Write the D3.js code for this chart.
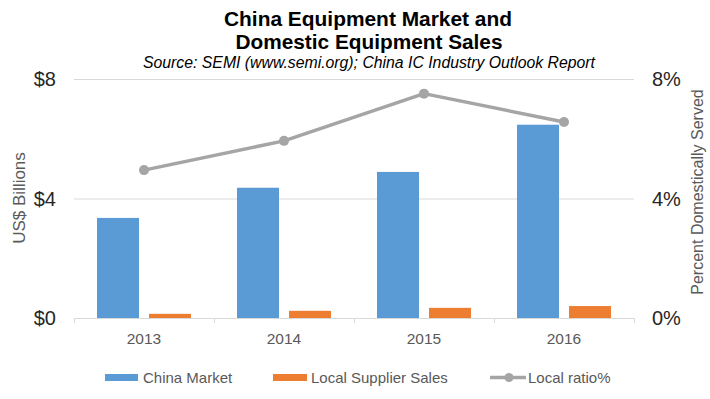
<!DOCTYPE html>
<html>
<head>
<meta charset="utf-8">
<script src="https://cdn.jsdelivr.net/npm/d3@7"></script>
<style>
  body { margin: 0; background: #fff; }
  svg { display: block; font-family: "Liberation Sans", Arial, sans-serif; }
</style>
</head>
<body>
<svg id="chart" width="710" height="399"></svg>
<script>
// chart data
const years = ["2013", "2014", "2015", "2016"];
const chinaMarket = [3.35, 4.36, 4.89, 6.47];
const localSales = [0.14, 0.24, 0.34, 0.40];
const localRatio = [4.95, 5.93, 7.51, 6.56];
const leftTicks = [0, 4, 8];
const rightTicks = [0, 4, 8];

const svg = d3.select('#chart');

// plot area
const x0 = 74, x1 = 634, yTop = 79, yBot = 318;

const x = d3.scaleBand().domain(years).range([x0, x1]).padding(0);
const yL = d3.scaleLinear().domain([0, 8]).range([yBot, yTop]);
const yR = d3.scaleLinear().domain([0, 8]).range([yBot, yTop]);

const blue = '#5B9BD5', orange = '#ED7D31', gray = '#A5A5A5';

// title
const title = svg.append('g').attr('font-weight', 'bold').attr('fill', '#000').attr('text-anchor', 'middle');
title.append('text').attr('x', 368).attr('y', 26).attr('font-size', 20.5)
  .attr('textLength', 288).attr('lengthAdjust', 'spacingAndGlyphs')
  .text('China Equipment Market and');
title.append('text').attr('x', 369).attr('y', 49).attr('font-size', 20.5)
  .attr('textLength', 267).attr('lengthAdjust', 'spacingAndGlyphs')
  .text('Domestic Equipment Sales');
svg.append('text').attr('x', 369).attr('y', 67.5).attr('text-anchor', 'middle')
  .attr('font-size', 16).attr('font-style', 'italic').attr('fill', '#000')
  .attr('textLength', 452).attr('lengthAdjust', 'spacingAndGlyphs')
  .text('Source: SEMI (www.semi.org); China IC Industry Outlook Report');

// gridlines
svg.append('g').selectAll('line').data(leftTicks.slice(1)).enter().append('line')
  .attr('x1', x0).attr('x2', x1)
  .attr('y1', d => yL(d) + 0.5).attr('y2', d => yL(d) + 0.5)
  .attr('stroke', '#D9D9D9').attr('stroke-width', 1);

// bars
const inner = 23, bw = 42, gap = 10;
svg.append('g').selectAll('rect').data(chinaMarket).enter().append('rect')
  .attr('x', (d, i) => x(years[i]) + inner)
  .attr('y', d => yL(d))
  .attr('width', bw)
  .attr('height', d => yBot - yL(d))
  .attr('fill', blue);
svg.append('g').selectAll('rect').data(localSales).enter().append('rect')
  .attr('x', (d, i) => x(years[i]) + inner + bw + gap)
  .attr('y', d => yL(d))
  .attr('width', bw)
  .attr('height', d => yBot - yL(d))
  .attr('fill', orange);

// bottom axis line and ticks
svg.append('line').attr('x1', x0).attr('x2', x1).attr('y1', yBot + 0.5).attr('y2', yBot + 0.5)
  .attr('stroke', '#D9D9D9');
const bounds = years.map(d => x(d)).concat([x1]);
svg.append('g').selectAll('line').data(bounds).enter().append('line')
  .attr('x1', d => d + 0.5).attr('x2', d => d + 0.5)
  .attr('y1', yBot).attr('y2', yBot + 5)
  .attr('stroke', '#D9D9D9');

// year labels
svg.append('g').selectAll('text').data(years).enter().append('text')
  .attr('x', d => x(d) + x.bandwidth() / 2)
  .attr('y', 344)
  .attr('text-anchor', 'middle')
  .attr('font-size', 15.5)
  .attr('fill', '#595959')
  .text(d => d);

// left axis labels
svg.append('g').selectAll('text').data(leftTicks).enter().append('text')
  .attr('x', 56).attr('y', d => yL(d) + 7)
  .attr('text-anchor', 'end').attr('font-size', 20).attr('fill', '#262626')
  .text(d => '$' + d);

// right axis labels
svg.append('g').selectAll('text').data(rightTicks).enter().append('text')
  .attr('x', 652).attr('y', d => yR(d) + 7)
  .attr('text-anchor', 'start').attr('font-size', 20).attr('fill', '#262626')
  .text(d => d + '%');

// axis titles
svg.append('text').attr('transform', 'translate(25,198) rotate(-90)')
  .attr('text-anchor', 'middle').attr('font-size', 17).attr('fill', '#595959')
  .text('US$ Billions');
svg.append('text').attr('transform', 'translate(703,192) rotate(-90)')
  .attr('text-anchor', 'middle').attr('font-size', 16).attr('fill', '#595959')
  .text('Percent Domestically Served');

// ratio line
const line = d3.line()
  .x((d, i) => x(years[i]) + x.bandwidth() / 2)
  .y(d => yR(d));
svg.append('path').datum(localRatio)
  .attr('d', line).attr('fill', 'none')
  .attr('stroke', gray).attr('stroke-width', 3.5).attr('stroke-linejoin', 'round');
svg.append('g').selectAll('circle').data(localRatio).enter().append('circle')
  .attr('cx', (d, i) => x(years[i]) + x.bandwidth() / 2)
  .attr('cy', d => yR(d))
  .attr('r', 5).attr('fill', gray);

// legend
const leg = svg.append('g');
leg.append('rect').attr('x', 105).attr('y', 374).attr('width', 33).attr('height', 7).attr('fill', blue);
leg.append('text').attr('x', 143).attr('y', 383).attr('font-size', 15).attr('fill', '#595959').text('China Market');
leg.append('rect').attr('x', 273).attr('y', 374).attr('width', 34).attr('height', 7).attr('fill', orange);
leg.append('text').attr('x', 311).attr('y', 383).attr('font-size', 15).attr('fill', '#595959').text('Local Supplier Sales');
leg.append('line').attr('x1', 490).attr('x2', 526).attr('y1', 377.5).attr('y2', 377.5)
  .attr('stroke', gray).attr('stroke-width', 3.5);
leg.append('circle').attr('cx', 509).attr('cy', 377.5).attr('r', 4.5).attr('fill', gray);
leg.append('text').attr('x', 528).attr('y', 383).attr('font-size', 15).attr('fill', '#595959').text('Local ratio%');
</script>
</body>
</html>
